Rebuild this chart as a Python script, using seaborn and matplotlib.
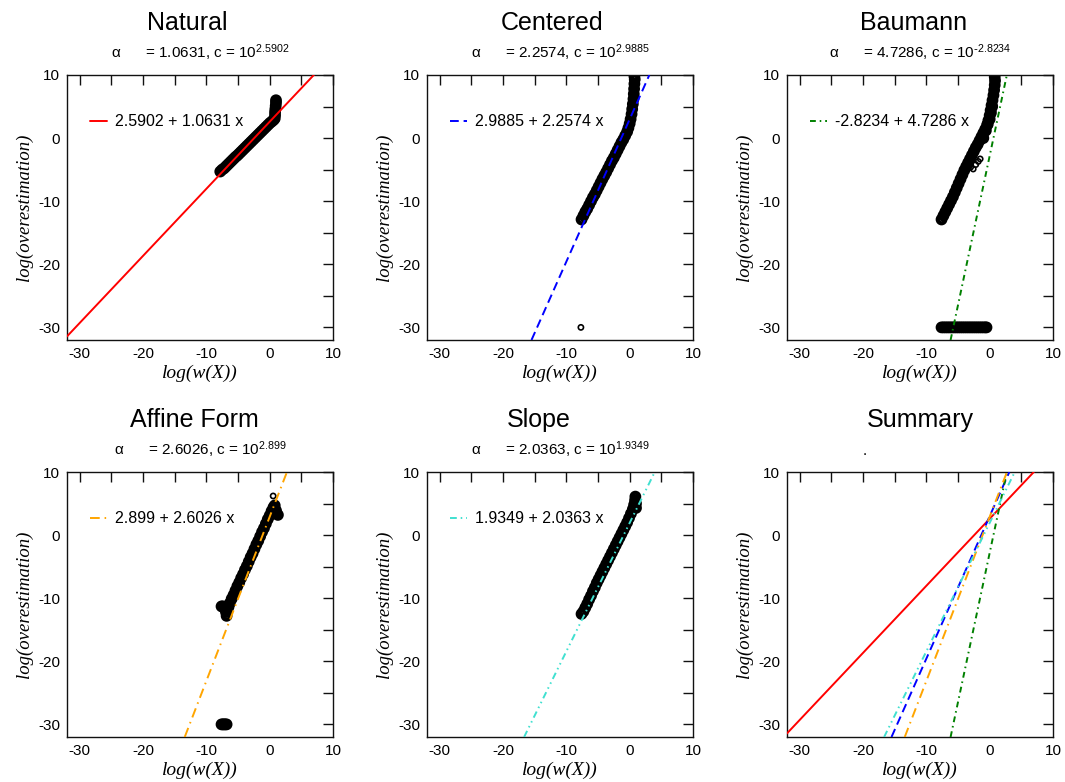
import matplotlib
matplotlib.use("Agg")
import matplotlib.pyplot as plt
from matplotlib.ticker import MultipleLocator
import seaborn as sns

# ---------------- data ----------------
titles = ["Natural", "Centered", "Baumann", "Affine Form", "Slope", "Summary"]
intercepts = [2.5902, 2.9885, -2.8234, 2.899, 1.9349]
slopes = [1.0631, 2.2574, 4.7286, 2.6026, 2.0363]
x_ticks = [-30, -20, -10, 0, 10]
y_ticks = [-30, -20, -10, 0, 10]

natural_x = [-7.8, -7.5, -7.2, -6.9, -6.6, -6.3, -6.0, -5.7, -5.4, -5.1, -4.8, -4.5,
             -4.2, -3.9, -3.6, -3.3, -3.0, -2.7, -2.4, -2.1, -1.8, -1.5, -1.2, -0.9,
             -0.6, -0.3, 0.0, 0.3, 0.6, 0.8, 0.85, 0.85, 0.9, 0.95, 1.0, 1.0]
natural_y = [-5.3, -5.0, -4.8, -4.5, -4.2, -3.9, -3.6, -3.3, -3.0, -2.75, -2.45, -2.15,
             -1.85, -1.55, -1.25, -0.95, -0.65, -0.35, -0.05, 0.25, 0.55, 0.85, 1.15, 1.45,
             1.75, 2.05, 2.35, 2.6, 2.85, 3.1, 3.6, 4.1, 4.6, 5.1, 5.6, 6.0]

centered_x = [-7.6, -7.3, -7.0, -6.7, -6.4, -6.1, -5.8, -5.5, -5.2, -4.9, -4.6, -4.3,
              -4.0, -3.7, -3.4, -3.1, -2.8, -2.5, -2.2, -1.9, -1.6, -1.3, -1.0, -0.7,
              -0.4, -0.2, 0.0, 0.15, 0.3, 0.4, 0.5, 0.6, 0.65, 0.7, 0.75, 0.8, 0.75]
centered_y = [-12.9, -12.3, -11.7, -11.2, -10.6, -10.0, -9.4, -8.9, -8.3, -7.7, -7.1, -6.5,
              -5.95, -5.4, -4.8, -4.2, -3.6, -3.1, -2.5, -1.9, -1.3, -0.7, -0.2, 0.4,
              1.0, 1.6, 2.3, 3.0, 3.8, 4.6, 5.4, 6.2, 7.0, 7.8, 8.6, 9.3, 9.8]
centered_out_x = [-7.7]
centered_out_y = [-30.0]

baumann_x = [-7.6, -7.3, -7.0, -6.7, -6.4, -6.1, -5.8, -5.5, -5.2, -4.9, -4.6, -4.3,
             -4.0, -3.7, -3.4, -3.1, -2.8, -2.5, -2.2, -1.9, -1.6, -1.3, -1.0, -0.7,
             -0.4, -0.2, 0.0, 0.15, 0.3, 0.45, 0.6, 0.7, 0.8, 0.85, 0.8,
             -1.0, -0.6, -0.3, 0.0, 0.2, 0.4,
             -7.6, -7.3, -7.0, -6.7, -6.4, -6.1, -5.8, -5.5, -5.2, -4.9, -4.6, -4.3,
             -4.0, -3.7, -3.4, -3.1, -2.8, -2.5, -2.2, -1.9, -1.6, -1.3, -1.0, -0.7, -0.5]
baumann_y = [-12.9, -12.3, -11.7, -11.1, -10.5, -9.9, -9.3, -8.6, -7.9, -7.2, -6.5, -5.8,
             -5.1, -4.5, -3.9, -3.3, -2.7, -2.1, -1.5, -1.0, -0.4, 0.2, 0.8, 1.4,
             2.1, 2.8, 3.6, 4.4, 5.2, 6.0, 6.8, 7.6, 8.4, 9.1, 9.7,
             0.0, 1.2, 2.2, 3.0, 4.0, 5.0,
             -30, -30, -30, -30, -30, -30, -30, -30, -30, -30, -30, -30,
             -30, -30, -30, -30, -30, -30, -30, -30, -30, -30, -30, -30, -30]
baumann_out_x = [-3.0, -2.6, -2.2, -1.8, -1.5]
baumann_out_y = [-4.6, -4.9, -4.2, -3.7, -3.3]

affine_x = [-7.6, -7.4, -7.1, -6.9, -6.8, -6.7, -6.5, -6.3, -6.0, -5.7, -5.4, -5.1,
            -4.8, -4.5, -4.2, -3.9, -3.6, -3.3, -3.0, -2.7, -2.4, -2.1, -1.8, -1.5,
            -1.2, -0.9, -0.6, -0.3, 0.0, 0.3, 0.6, 0.8, 1.1, 1.3, 1.0, 0.5,
            -7.6, -7.4, -7.2, -7.0, -6.8]
affine_y = [-11.3, -11.3, -11.6, -12.2, -12.8, -12.0, -11.4, -10.8, -10.1, -9.5, -8.8, -8.1,
            -7.5, -6.8, -6.2, -5.5, -4.9, -4.2, -3.5, -2.9, -2.2, -1.5, -0.9, -0.2,
            0.5, 1.1, 1.8, 2.5, 3.1, 3.8, 4.4, 4.7, 3.4, 3.2, 3.9, 3.5,
            -30, -30, -30, -30, -30]
affine_out_x = [0.55]
affine_out_y = [6.2]

slope_x = [-7.6, -7.3, -7.0, -6.7, -6.4, -6.1, -5.8, -5.5, -5.2, -4.9, -4.6, -4.3,
           -4.0, -3.7, -3.4, -3.1, -2.8, -2.5, -2.2, -1.9, -1.6, -1.3, -1.0, -0.7,
           -0.4, -0.1, 0.2, 0.5, 0.7, 0.85, 0.9, 1.0, 1.0]
slope_y = [-12.5, -12.1, -11.5, -10.9, -10.2, -9.6, -8.9, -8.3, -7.6, -7.0, -6.4, -5.8,
           -5.2, -4.6, -4.0, -3.4, -2.8, -2.2, -1.6, -1.0, -0.4, 0.2, 0.8, 1.4,
           2.0, 2.7, 3.4, 4.1, 4.8, 5.5, 6.1, 5.0, 4.3]

points_x = [natural_x, centered_x, baumann_x, affine_x, slope_x]
points_y = [natural_y, centered_y, baumann_y, affine_y, slope_y]
outliers_x = [[], centered_out_x, baumann_out_x, affine_out_x, []]
outliers_y = [[], centered_out_y, baumann_out_y, affine_out_y, []]

# ---------------- styles ----------------
line_colors = ["#FF0000", "#0000FF", "#008000", "#FFA500", "#40E0D0"]
line_styles = ["-", (0, (4.5, 2.5)), (0, (3, 2, 0.8, 2)), (0, (5, 2.5, 0.8, 2.5)),
               (0, (3.5, 2, 0.8, 2, 0.8, 2))]
title_xs = [0.453, 0.47, 0.474, 0.477, 0.42, 0.5]

sns.set_style("white")
plt.rcParams["font.family"] = ["Liberation Sans", "DejaVu Sans"]
plt.rcParams["axes.edgecolor"] = "#111111"
plt.rcParams["axes.linewidth"] = 1.0
plt.rcParams["axes.unicode_minus"] = False
plt.rcParams["text.color"] = "black"
plt.rcParams["axes.labelcolor"] = "black"
plt.rcParams["xtick.color"] = "black"
plt.rcParams["ytick.color"] = "black"

W, H = 1065, 782
fig = plt.figure(figsize=(W / 100, H / 100), dpi=100)
lefts = [67, 427, 787]
tops = [75, 472]
aw, ah = 266, 265

serif = ["Liberation Serif", "DejaVu Serif"]

for i in range(6):
    r, c = divmod(i, 3)
    ax = fig.add_axes([lefts[c] / W, 1 - (tops[r] + ah) / H, aw / W, ah / H])
    if i < 5:
        sns.scatterplot(x=points_x[i], y=points_y[i], ax=ax, marker="o", s=30,
                        facecolors="none", edgecolor="black", linewidth=3.0,
                        legend=False, zorder=2)
        if outliers_x[i]:
            sns.scatterplot(x=outliers_x[i], y=outliers_y[i], ax=ax, marker="o", s=14,
                            facecolors="none", edgecolor="black", linewidth=1.2,
                            legend=False, zorder=2)
        a, b = intercepts[i], slopes[i]
        ax.axline((0, a), slope=b, color=line_colors[i], linestyle=line_styles[i],
                  lw=1.4, label=f"{a:g} + {b:g} x", zorder=3)
        ax.legend(loc="center left", bbox_to_anchor=(0.085, 0.823),
                  frameon=False, fontsize=11.5, handlelength=1.1,
                  handletextpad=0.5, borderpad=0, borderaxespad=0)
        expo = f"{a:g}".replace("-", r"\text{-}")
        ax.text(0.5, 1 + 17 / ah,
                f"α      = {b:g}, c = $\\mathregular{{10^{{{expo}}}}}$",
                transform=ax.transAxes, ha="center", va="baseline", fontsize=11)
    else:
        for a, b, col, ls in zip(intercepts, slopes, line_colors, line_styles):
            ax.axline((0, a), slope=b, color=col, linestyle=ls, lw=1.4, zorder=3)
        ax.text(0.293, 1 + 17 / ah, ".", transform=ax.transAxes, ha="center",
                va="baseline", fontsize=11)
    ax.text(title_xs[i], 1 + 45 / ah, titles[i], transform=ax.transAxes,
            ha="center", va="baseline", fontsize=18)
    ax.set_xlim(-32, 10)
    ax.set_ylim(-32, 10)
    ax.set_xticks(x_ticks)
    ax.set_yticks(y_ticks)
    ax.xaxis.set_minor_locator(MultipleLocator(5))
    ax.yaxis.set_minor_locator(MultipleLocator(5))
    ax.tick_params(which="both", direction="in", top=True, right=True,
                   length=7, width=1, color="#111111", labelsize=11, pad=5)
    ax.set_xlabel("log(w(X))", fontsize=14, family=serif, style="italic", labelpad=3)
    ax.set_ylabel("log(overestimation)", fontsize=13.5, family=serif, style="italic",
                  labelpad=4)

fig.savefig("out.png", dpi=100)
